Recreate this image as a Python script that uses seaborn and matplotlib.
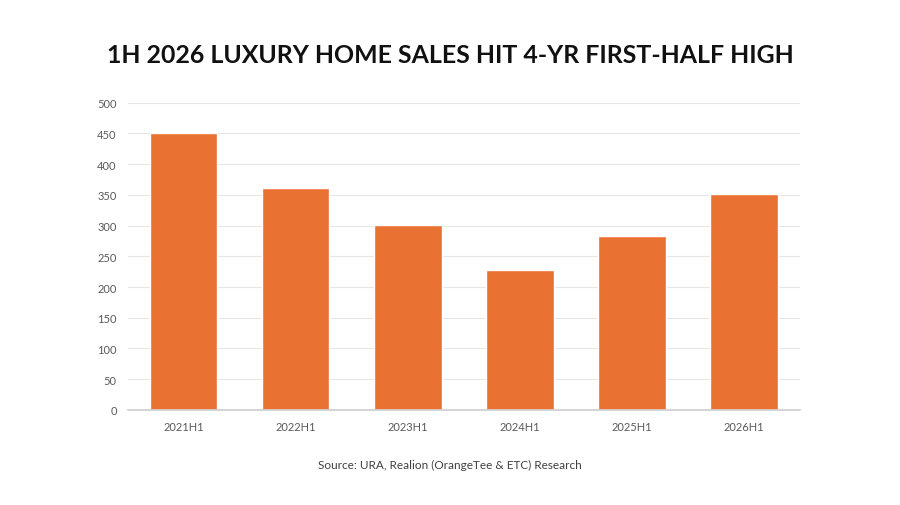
import matplotlib
matplotlib.use("Agg")
import matplotlib.pyplot as plt
import seaborn as sns
import pandas as pd

periods = ["2021H1", "2022H1", "2023H1", "2024H1", "2025H1", "2026H1"]
sales = [450, 362, 301, 227, 283, 352]
yticks = [0, 50, 100, 150, 200, 250, 300, 350, 400, 450, 500]

sns.set_theme(style="white")
plt.rcParams['font.family'] = ['Lato', 'DejaVu Sans']

df = pd.DataFrame({"period": periods, "sales": sales})
fig = plt.figure(figsize=(9, 5.06), dpi=100)
ax = fig.add_axes([0.142, 0.188, 0.747, 0.607])
sns.barplot(data=df, x="period", y="sales", color="#E97132", saturation=1, width=0.6, ax=ax)
ax.set_ylim(0, 500)
ax.set_yticks(yticks)
ax.yaxis.grid(True, color="#e6e6e6", linewidth=0.8)
ax.set_axisbelow(True)
for s in ["top", "right", "left"]:
    ax.spines[s].set_visible(False)
ax.spines["bottom"].set_color("#d0d0d0")
ax.set_xlabel("")
ax.set_ylabel("")
ax.tick_params(axis="both", labelsize=8, colors="#595959", length=0, pad=8)
fig.text(0.5, 0.89, "1H 2026 LUXURY HOME SALES HIT 4-YR FIRST-HALF HIGH",
         ha="center", va="center", fontsize=17.9, fontweight="bold", color="#111111")
fig.text(0.5, 0.08, "Source: URA, Realion (OrangeTee & ETC) Research",
         ha="center", va="center", fontsize=8.5, color="#404040")
fig.savefig("out.png", dpi=100, facecolor="white")
